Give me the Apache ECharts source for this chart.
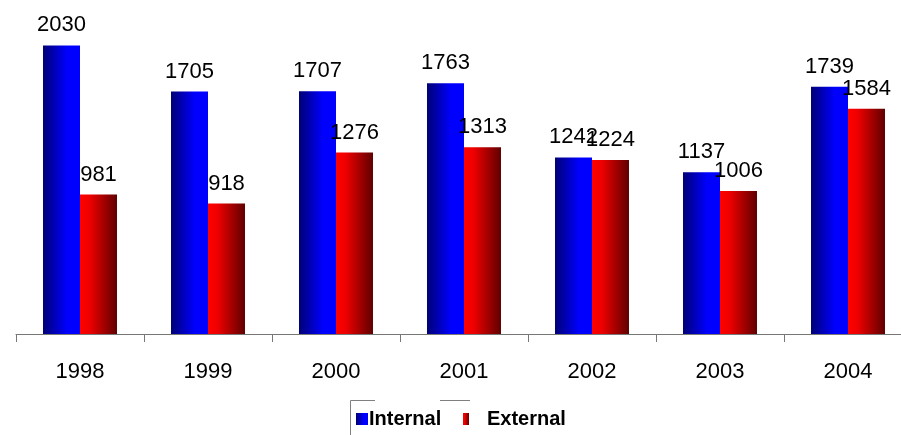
<!DOCTYPE html>
<html>
<head>
<meta charset="utf-8">
<script src="https://cdn.jsdelivr.net/npm/echarts@6/dist/echarts.min.js"></script>
<style>
  html, body { margin: 0; padding: 0; background: #fff; }
  #chart { width: 901px; height: 435px; }
</style>
</head>
<body>
<div id="chart"></div>
<script>
// Yearly counts, internal vs external
const years = ['1998', '1999', '2000', '2001', '2002', '2003', '2004'];
const internalValues = [2030, 1705, 1707, 1763, 1242, 1137, 1739];
const externalValues = [981, 918, 1276, 1313, 1224, 1006, 1584];

const FONT = 'Arial, "Liberation Sans", sans-serif';

// Horizontal shading across each bar
const blueFill = new echarts.graphic.LinearGradient(0, 0, 1, 0, [
  { offset: 0, color: '#000074' },
  { offset: 0.65, color: '#0000ff' },
  { offset: 1, color: '#0000ff' }
]);
const redFill = new echarts.graphic.LinearGradient(0, 0, 1, 0, [
  { offset: 0, color: '#ff0000' },
  { offset: 0.25, color: '#f00000' },
  { offset: 1, color: '#600000' }
]);

const valueLabel = {
  show: true,
  position: 'top',
  distance: 9,
  fontSize: 22,
  fontFamily: FONT,
  color: '#000'
};

const legendText = {
  fontSize: 20,
  fontWeight: 'bold',
  fontFamily: FONT,
  color: '#000'
};

const chart = echarts.init(document.getElementById('chart'), null, { renderer: 'canvas' });
chart.setOption({
  animation: false,
  backgroundColor: '#fff',
  // plot area runs past the right edge of the canvas
  grid: { left: 16, width: 896, top: 7, height: 327, containLabel: false, outerBoundsMode: 'none' },
  xAxis: {
    type: 'category',
    data: years,
    axisLine: { show: true, lineStyle: { color: '#777', width: 1 } },
    axisTick: { show: true, length: 8, lineStyle: { color: '#777', width: 1 } },
    axisLabel: { margin: 27, fontSize: 22, fontFamily: FONT, color: '#000' }
  },
  yAxis: {
    type: 'value',
    min: 0,
    max: 2300,
    show: false,
    splitLine: { show: false }
  },
  legend: [
    {
      data: ['Internal'],
      left: 356,
      top: 409,
      padding: 0,
      itemWidth: 12,
      itemHeight: 12,
      icon: 'rect',
      textStyle: Object.assign({ padding: [0, 0, 0, -4] }, legendText)
    },
    {
      data: ['External'],
      left: 463,
      top: 409,
      padding: 0,
      itemWidth: 6,
      itemHeight: 12,
      icon: 'rect',
      textStyle: Object.assign({ padding: [0, 0, 0, 13] }, legendText)
    }
  ],
  graphic: [
    // legend frame fragments
    { type: 'polyline', silent: true, shape: { points: [[350.5, 435], [350.5, 400.5], [375, 400.5]] }, style: { stroke: '#808080', lineWidth: 1, fill: null } },
    { type: 'line', silent: true, shape: { x1: 440, y1: 400.5, x2: 470, y2: 400.5 }, style: { stroke: '#808080', lineWidth: 1 } }
  ],
  series: [
    {
      name: 'Internal',
      type: 'bar',
      data: internalValues,
      barWidth: 37,
      barGap: '0%',
      itemStyle: { color: blueFill },
      label: valueLabel
    },
    {
      name: 'External',
      type: 'bar',
      data: externalValues,
      barWidth: 37,
      barGap: '0%',
      itemStyle: { color: redFill },
      label: valueLabel
    }
  ]
});
</script>
</body>
</html>
